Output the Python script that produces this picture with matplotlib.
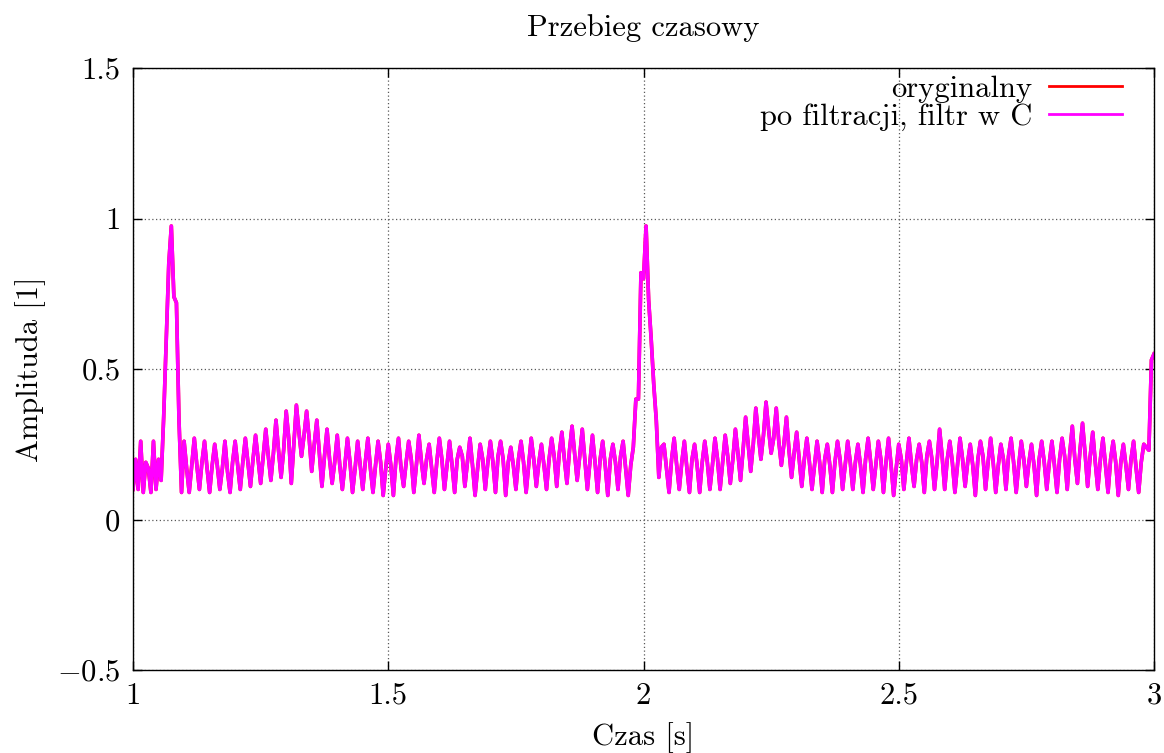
import numpy as np
import matplotlib.pyplot as plt

plt.rcParams['font.family'] = ['cmr10', 'DejaVu Serif']
plt.rcParams['mathtext.fontset'] = 'cm'
plt.rcParams['axes.formatter.use_mathtext'] = True

# sygnal, krok 0.005 s, od t=1.0 do t=3.0 (wiersz = 0.1 s)
amp = [
    0.10, 0.20, 0.10, 0.26, 0.09, 0.19, 0.17, 0.09, 0.26, 0.10, 0.20, 0.13, 0.34, 0.60, 0.85, 0.975, 0.74, 0.72, 0.33, 0.09,
    0.26, 0.17, 0.09, 0.18, 0.27, 0.18, 0.10, 0.19, 0.26, 0.17, 0.09, 0.18, 0.25, 0.18, 0.10, 0.17, 0.26, 0.16, 0.09, 0.19,
    0.26, 0.18, 0.10, 0.19, 0.27, 0.19, 0.11, 0.20, 0.28, 0.20, 0.12, 0.21, 0.30, 0.21, 0.13, 0.22, 0.33, 0.23, 0.14, 0.23,
    0.36, 0.27, 0.12, 0.25, 0.38, 0.29, 0.21, 0.28, 0.36, 0.27, 0.16, 0.25, 0.33, 0.22, 0.11, 0.21, 0.30, 0.20, 0.12, 0.19,
    0.28, 0.18, 0.10, 0.18, 0.27, 0.19, 0.09, 0.17, 0.26, 0.18, 0.10, 0.19, 0.27, 0.17, 0.09, 0.18, 0.26, 0.19, 0.08, 0.17,
    0.25, 0.18, 0.08, 0.20, 0.27, 0.17, 0.11, 0.19, 0.26, 0.20, 0.09, 0.18, 0.28, 0.19, 0.12, 0.20, 0.25, 0.17, 0.09, 0.19,
    0.27, 0.20, 0.10, 0.18, 0.26, 0.18, 0.09, 0.20, 0.24, 0.21, 0.11, 0.19, 0.27, 0.18, 0.08, 0.17, 0.25, 0.20, 0.10, 0.19,
    0.26, 0.19, 0.09, 0.21, 0.26, 0.20, 0.08, 0.19, 0.24, 0.18, 0.10, 0.20, 0.26, 0.19, 0.09, 0.18, 0.27, 0.20, 0.11, 0.19,
    0.25, 0.18, 0.10, 0.20, 0.27, 0.21, 0.11, 0.22, 0.29, 0.20, 0.12, 0.23, 0.31, 0.22, 0.13, 0.21, 0.30, 0.20, 0.10, 0.19,
    0.28, 0.19, 0.09, 0.20, 0.26, 0.18, 0.08, 0.20, 0.25, 0.19, 0.10, 0.21, 0.26, 0.17, 0.08, 0.18, 0.24, 0.40, 0.40, 0.82,
    0.80, 0.975, 0.73, 0.60, 0.45, 0.33, 0.14, 0.24, 0.25, 0.17, 0.09, 0.20, 0.27, 0.18, 0.10, 0.19, 0.26, 0.17, 0.09, 0.20,
    0.25, 0.18, 0.09, 0.19, 0.26, 0.19, 0.10, 0.18, 0.27, 0.20, 0.10, 0.19, 0.28, 0.21, 0.12, 0.20, 0.30, 0.22, 0.13, 0.23,
    0.34, 0.25, 0.16, 0.25, 0.37, 0.28, 0.20, 0.28, 0.39, 0.30, 0.22, 0.27, 0.37, 0.26, 0.18, 0.25, 0.34, 0.23, 0.14, 0.22,
    0.29, 0.20, 0.11, 0.20, 0.27, 0.19, 0.10, 0.18, 0.26, 0.19, 0.09, 0.20, 0.25, 0.18, 0.09, 0.19, 0.26, 0.20, 0.10, 0.18,
    0.26, 0.19, 0.10, 0.19, 0.25, 0.18, 0.09, 0.20, 0.27, 0.19, 0.10, 0.18, 0.26, 0.20, 0.09, 0.19, 0.27, 0.18, 0.08, 0.17,
    0.25, 0.20, 0.10, 0.19, 0.27, 0.18, 0.11, 0.20, 0.25, 0.19, 0.09, 0.21, 0.26, 0.20, 0.10, 0.19, 0.30, 0.21, 0.10, 0.20,
    0.26, 0.19, 0.09, 0.18, 0.27, 0.20, 0.11, 0.19, 0.25, 0.18, 0.08, 0.20, 0.26, 0.21, 0.10, 0.19, 0.27, 0.19, 0.09, 0.18,
    0.25, 0.20, 0.10, 0.21, 0.27, 0.19, 0.09, 0.18, 0.26, 0.20, 0.11, 0.19, 0.25, 0.18, 0.08, 0.20, 0.26, 0.19, 0.10, 0.19,
    0.26, 0.18, 0.09, 0.20, 0.27, 0.21, 0.10, 0.22, 0.31, 0.20, 0.12, 0.23, 0.32, 0.22, 0.11, 0.21, 0.29, 0.19, 0.10, 0.20,
    0.27, 0.18, 0.09, 0.20, 0.26, 0.19, 0.08, 0.19, 0.25, 0.18, 0.10, 0.20, 0.26, 0.17, 0.09, 0.19, 0.25, 0.24, 0.23, 0.53,
    0.55,
]
t = np.linspace(1.0, 3.0, len(amp))

xticks = [1, 1.5, 2, 2.5, 3]
xlabels = ['1', '1.5', '2', '2.5', '3']
yticks = [-0.5, 0, 0.5, 1, 1.5]
ylabels = ['$-$0.5', '0', '0.5', '1', '1.5']

fs = 22

fig = plt.figure(figsize=(11.64, 7.53), dpi=100)
ax = fig.add_axes([0.1143, 0.1102, 0.8771, 0.7995])

ax.plot(t, amp, color='#ff0000', lw=2.6, label='oryginalny')
ax.plot(t, amp, color='#ff00ff', lw=2.6, label='po filtracji, filtr w C')

ax.set_xlim(1, 3)
ax.set_ylim(-0.5, 1.5)
ax.set_xticks(xticks)
ax.set_xticklabels(xlabels)
ax.set_yticks(yticks)
ax.set_yticklabels(ylabels)
ax.tick_params(direction='in', length=6.5, width=1, top=True, right=True, labelsize=fs, pad=9)
ax.grid(True, color='0.35', linestyle=(0, (1, 2)), linewidth=0.9)
for s in ax.spines.values():
    s.set_linewidth(1)

ax.set_title('Przebieg czasowy', fontsize=fs, pad=23)
ax.set_xlabel('Czas [s]', fontsize=fs, labelpad=9)
ax.set_ylabel('Amplituda [1]', fontsize=fs, labelpad=8)

leg = ax.legend(loc='upper right', bbox_to_anchor=(0.9687, 0.9875), frameon=False,
                fontsize=fs, markerfirst=False, handlelength=2.4, handletextpad=0.55,
                labelspacing=0.0, borderaxespad=0, borderpad=0)
for ln in leg.get_lines():
    ln.set_linewidth(2.0)

fig.savefig('out.png', dpi=100)
